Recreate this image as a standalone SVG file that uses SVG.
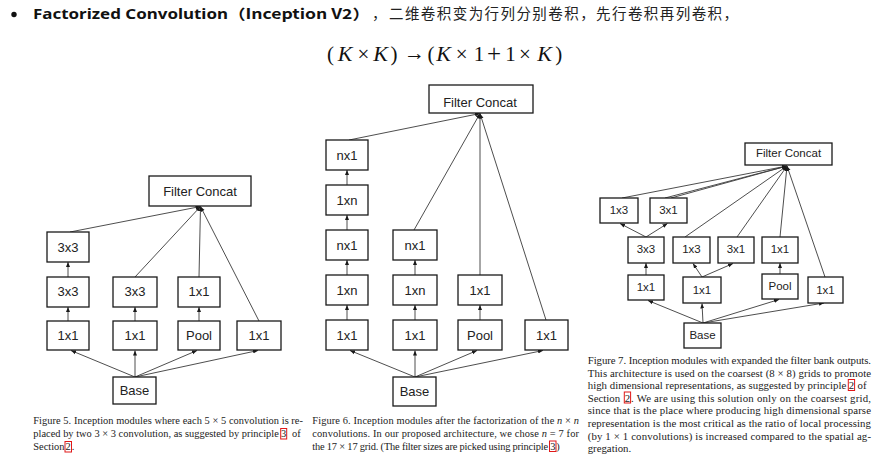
<svg xmlns="http://www.w3.org/2000/svg" width="875" height="455" viewBox="0 0 875 455">
<defs>
<marker id="ah" viewBox="0 0 10 10" refX="10" refY="5" markerWidth="5" markerHeight="5" markerUnits="userSpaceOnUse" orient="auto"><path d="M0,1 L10,5 L0,9z" fill="#1a1a1a"/></marker>
<style>
.box{fill:#fff;stroke:#1a1a1a;stroke-width:1.3}
.lbl{font-family:"Liberation Sans",Arial,sans-serif;font-size:13px;text-anchor:middle;fill:#222}
.s7{font-size:11.5px}
.edge{stroke:#3a3a3a;stroke-width:0.9;fill:none;marker-end:url(#ah)}
.cap{font-family:"Liberation Serif","Times New Roman",serif;font-size:10.4px;fill:#222}
.c7{font-size:10.8px}
.ref{fill:none;stroke:#e01818;stroke-width:1}
.math{font-family:"Liberation Serif","DejaVu Serif",serif;font-size:21px;fill:#111;text-anchor:middle}
.it{font-style:italic}
.mk{font-size:22px}
.hdr{font-family:"Noto Sans","Noto Sans CJK SC",sans-serif;font-size:14px;font-weight:bold;fill:#111}
.cjk{font-family:"Noto Sans CJK SC",sans-serif;font-size:14.5px;fill:#222}
</style>
</defs>
<rect width="875" height="455" fill="#fff"/>

<!-- header -->
<g id="header">
<circle cx="14" cy="14.5" r="2.7" fill="#111"/>
<text class="hdr" x="33" y="19" textLength="195" lengthAdjust="spacingAndGlyphs">Factorized Convolution</text>
<text class="hdr" x="228" y="19" textLength="142" lengthAdjust="spacingAndGlyphs" style="font-family:'Noto Sans CJK SC',sans-serif">（Inception V2）</text>
<text class="cjk" x="372" y="19">，</text>
<text class="cjk" x="389" y="19" textLength="349" lengthAdjust="spacing">二维卷积变为行列分别卷积，先行卷积再列卷积，</text>
</g>

<g id="formula" class="math">
<text x="330.5" y="61">(</text>
<text x="345" y="61" class="it mk">K</text>
<text x="363.3" y="61">×</text>
<text x="380.5" y="61" class="it mk">K</text>
<text x="394" y="61">)</text>
<text x="414.5" y="60" textLength="21" lengthAdjust="spacingAndGlyphs">→</text>
<text x="431" y="61">(</text>
<text x="443.5" y="61" class="it mk">K</text>
<text x="461.7" y="61">×</text>
<text x="479" y="61">1</text>
<text x="494" y="62" style="font-size:25px">+</text>
<text x="510.5" y="61">1</text>
<text x="525" y="61">×</text>
<text x="544.5" y="61" class="it mk">K</text>
<text x="558.7" y="61">)</text>
</g>

<!-- Figure 5 -->
<g id="fig5-connectors">
<line class="edge" x1="135" y1="377" x2="71" y2="350.5"/>
<line class="edge" x1="135" y1="377" x2="135" y2="350.5"/>
<line class="edge" x1="135" y1="377" x2="197" y2="350.5"/>
<line class="edge" x1="135" y1="377" x2="258" y2="350.5"/>
<line class="edge" x1="68" y1="321" x2="68" y2="307"/>
<line class="edge" x1="68" y1="277" x2="68" y2="262"/>
<line class="edge" x1="135" y1="321" x2="135" y2="307"/>
<line class="edge" x1="199" y1="321" x2="199" y2="307"/>
<line class="edge" x1="70" y1="232" x2="200.5" y2="206.5"/>
<line class="edge" x1="135" y1="277" x2="200.5" y2="206.5"/>
<line class="edge" x1="199" y1="277" x2="200.5" y2="206.5"/>
<line class="edge" x1="259" y1="321" x2="200.5" y2="206.5"/>
</g>
<g id="f5-concat"><rect class="box" x="149" y="176" width="102" height="30"/><text class="lbl" x="200" y="195.5">Filter Concat</text></g>
<g id="f5-a3"><rect class="box" x="47" y="232" width="42" height="30"/><text class="lbl" x="68" y="251.5">3x3</text></g>
<g id="f5-a2"><rect class="box" x="47" y="277" width="42" height="30"/><text class="lbl" x="68" y="296">3x3</text></g>
<g id="f5-a1"><rect class="box" x="47" y="321" width="42" height="29"/><text class="lbl" x="68" y="340">1x1</text></g>
<g id="f5-b2"><rect class="box" x="113" y="277" width="44" height="30"/><text class="lbl" x="135" y="296">3x3</text></g>
<g id="f5-b1"><rect class="box" x="113" y="321" width="44" height="29"/><text class="lbl" x="135" y="340">1x1</text></g>
<g id="f5-c2"><rect class="box" x="178" y="277" width="42" height="30"/><text class="lbl" x="199" y="296">1x1</text></g>
<g id="f5-c1"><rect class="box" x="178" y="321" width="42" height="29"/><text class="lbl" x="199" y="340">Pool</text></g>
<g id="f5-d1"><rect class="box" x="237" y="321" width="44" height="29"/><text class="lbl" x="259" y="340">1x1</text></g>
<g id="f5-base"><rect class="box" x="113" y="377" width="43" height="27"/><text class="lbl" x="134.5" y="394.5">Base</text></g>

<!-- Figure 6 -->
<g id="fig6-connectors">
<line class="edge" x1="415" y1="377" x2="350" y2="350.5"/>
<line class="edge" x1="415" y1="377" x2="415" y2="350.5"/>
<line class="edge" x1="415" y1="377" x2="477" y2="350.5"/>
<line class="edge" x1="415" y1="377" x2="543" y2="350.5"/>
<line class="edge" x1="347" y1="320" x2="347" y2="305"/>
<line class="edge" x1="347" y1="275" x2="347" y2="260"/>
<line class="edge" x1="347" y1="230" x2="347" y2="215"/>
<line class="edge" x1="347" y1="185" x2="347" y2="170"/>
<line class="edge" x1="415" y1="320" x2="415" y2="305"/>
<line class="edge" x1="415" y1="275" x2="415" y2="260"/>
<line class="edge" x1="480" y1="320" x2="480" y2="305"/>
<line class="edge" x1="349" y1="140" x2="480" y2="113.5"/>
<line class="edge" x1="414" y1="230" x2="480" y2="113.5"/>
<line class="edge" x1="480" y1="275" x2="480" y2="113.5"/>
<line class="edge" x1="546" y1="320" x2="480" y2="113.5"/>
</g>
<g id="f6-concat"><rect class="box" x="429" y="85" width="104" height="28"/><text class="lbl" x="480" y="106.5">Filter Concat</text></g>
<g id="f6-a5"><rect class="box" x="326" y="140" width="42" height="30"/><text class="lbl" x="347" y="159.5">nx1</text></g>
<g id="f6-a4"><rect class="box" x="326" y="185" width="42" height="30"/><text class="lbl" x="347" y="204.5">1xn</text></g>
<g id="f6-a3"><rect class="box" x="326" y="230" width="42" height="30"/><text class="lbl" x="347" y="249.5">nx1</text></g>
<g id="f6-a2"><rect class="box" x="326" y="275" width="42" height="30"/><text class="lbl" x="347" y="294.5">1xn</text></g>
<g id="f6-a1"><rect class="box" x="326" y="320" width="42" height="30"/><text class="lbl" x="347" y="339.5">1x1</text></g>
<g id="f6-b3"><rect class="box" x="393" y="230" width="44" height="30"/><text class="lbl" x="415" y="249.5">nx1</text></g>
<g id="f6-b2"><rect class="box" x="393" y="275" width="44" height="30"/><text class="lbl" x="415" y="294.5">1xn</text></g>
<g id="f6-b1"><rect class="box" x="393" y="320" width="44" height="30"/><text class="lbl" x="415" y="339.5">1x1</text></g>
<g id="f6-c2"><rect class="box" x="458" y="275" width="44" height="30"/><text class="lbl" x="480" y="294.5">1x1</text></g>
<g id="f6-c1"><rect class="box" x="458" y="320" width="44" height="30"/><text class="lbl" x="480" y="339.5">Pool</text></g>
<g id="f6-d1"><rect class="box" x="525" y="320" width="43" height="30"/><text class="lbl" x="546.5" y="339.5">1x1</text></g>
<g id="f6-base"><rect class="box" x="393" y="377" width="43" height="29"/><text class="lbl" x="414.5" y="396">Base</text></g>

<!-- Figure 7 -->
<g id="fig7-connectors">
<line class="edge" x1="703" y1="323" x2="648" y2="300.5"/>
<line class="edge" x1="703" y1="323" x2="702" y2="303.5"/>
<line class="edge" x1="703" y1="323" x2="779" y2="299.5"/>
<line class="edge" x1="703" y1="323" x2="824" y2="303"/>
<line class="edge" x1="646" y1="275" x2="646" y2="263"/>
<line class="edge" x1="780" y1="274" x2="780" y2="263"/>
<line class="edge" x1="646" y1="237" x2="620" y2="223.5"/>
<line class="edge" x1="646" y1="237" x2="667.5" y2="223.5"/>
<line class="edge" x1="702" y1="277" x2="693" y2="263.5"/>
<line class="edge" x1="702" y1="277" x2="733" y2="263.5"/>
<line class="edge" x1="622" y1="198" x2="787" y2="166"/>
<line class="edge" x1="665" y1="198" x2="787" y2="166"/>
<line class="edge" x1="671" y1="198" x2="787" y2="166"/>
<line class="edge" x1="685" y1="237" x2="787" y2="166"/>
<line class="edge" x1="737" y1="237" x2="787" y2="166"/>
<line class="edge" x1="780" y1="237" x2="787" y2="166"/>
<line class="edge" x1="825" y1="277" x2="787" y2="166"/>
</g>
<g id="f7-concat"><rect class="box" x="745" y="143" width="87" height="22"/><text class="lbl s7" x="788.5" y="156.5">Filter Concat</text></g>
<g id="f7-t1"><rect class="box" x="600" y="198" width="38" height="25"/><text class="lbl s7" x="619" y="214">1x3</text></g>
<g id="f7-t2"><rect class="box" x="650" y="198" width="37" height="25"/><text class="lbl s7" x="668.5" y="214">3x1</text></g>
<g id="f7-m1"><rect class="box" x="628" y="237" width="36" height="26"/><text class="lbl s7" x="646" y="253">3x3</text></g>
<g id="f7-m2"><rect class="box" x="673" y="237" width="37" height="26"/><text class="lbl s7" x="691.5" y="253">1x3</text></g>
<g id="f7-m3"><rect class="box" x="718" y="237" width="36" height="26"/><text class="lbl s7" x="736" y="253">3x1</text></g>
<g id="f7-m4"><rect class="box" x="762" y="237" width="36" height="26"/><text class="lbl s7" x="780" y="253">1x1</text></g>
<g id="f7-b1"><rect class="box" x="628" y="275" width="36" height="25"/><text class="lbl s7" x="646" y="290.7">1x1</text></g>
<g id="f7-b2"><rect class="box" x="683" y="277" width="38" height="26"/><text class="lbl s7" x="702" y="294">1x1</text></g>
<g id="f7-b3"><rect class="box" x="762" y="274" width="36" height="25"/><text class="lbl s7" x="780" y="289.7">Pool</text></g>
<g id="f7-b4"><rect class="box" x="808" y="277" width="35" height="26"/><text class="lbl s7" x="825.5" y="294">1x1</text></g>
<g id="f7-base"><rect class="box" x="684" y="323" width="37" height="25"/><text class="lbl s7" x="702.5" y="339">Base</text></g>

<!-- Captions -->
<g id="caption5" class="cap">
<text x="33.3" y="424" textLength="269.7" lengthAdjust="spacing">Figure 5. Inception modules where each 5 × 5 convolution is re-</text>
<text x="33.3" y="437" textLength="245.5" lengthAdjust="spacing">placed by two 3 × 3 convolution, as suggested by principle</text>
<rect class="ref" x="280.7" y="428.5" width="6" height="10.5"/>
<text x="281.1" y="437">3</text>
<text x="292" y="437">of</text>
<text x="33.3" y="450">Section</text>
<rect class="ref" x="65" y="441.5" width="6.5" height="10.5"/>
<text x="65.6" y="450">2</text>
<text x="71.8" y="450">.</text>
</g>
<g id="caption6" class="cap">
<text x="312.3" y="423.5" textLength="266.7" lengthAdjust="spacing">Figure 6. Inception modules after the factorization of the <tspan class="it">n</tspan> × <tspan class="it">n</tspan></text>
<text x="312.3" y="436.5" textLength="266.7" lengthAdjust="spacing">convolutions. In our proposed architecture, we chose <tspan class="it">n</tspan> = 7 for</text>
<text x="312.3" y="449.5" textLength="235.7" lengthAdjust="spacing">the 17 × 17 grid. (The filter sizes are picked using principle</text>
<rect class="ref" x="549.5" y="441" width="6.5" height="10.5"/>
<text x="550.2" y="449.5">3</text>
<text x="556.3" y="449.5">)</text>
</g>
<g id="caption7" class="cap c7">
<text x="587.7" y="364" textLength="283.3" lengthAdjust="spacing">Figure 7. Inception modules with expanded the filter bank outputs.</text>
<text x="587.7" y="376.6" textLength="283.3" lengthAdjust="spacing">This architecture is used on the coarsest (8 × 8) grids to promote</text>
<text x="587.7" y="389.2" textLength="258.5" lengthAdjust="spacing">high dimensional representations, as suggested by principle</text>
<rect class="ref" x="848.3" y="379.5" width="6.3" height="11"/>
<text x="848.8" y="389.2">2</text>
<text x="857.5" y="389.2">of</text>
<text x="587.7" y="401.8">Section</text>
<rect class="ref" x="624.3" y="392" width="6.3" height="11"/>
<text x="624.8" y="401.8">2</text>
<text x="631" y="401.8" textLength="240" lengthAdjust="spacing">. We are using this solution only on the coarsest grid,</text>
<text x="587.7" y="414.4" textLength="283.3" lengthAdjust="spacing">since that is the place where producing high dimensional sparse</text>
<text x="587.7" y="427" textLength="283.3" lengthAdjust="spacing">representation is the most critical as the ratio of local processing</text>
<text x="587.7" y="439.6" textLength="283.3" lengthAdjust="spacing">(by 1 × 1 convolutions) is increased compared to the spatial ag-</text>
<text x="587.7" y="452.2">gregation.</text>
</g>
</svg>
